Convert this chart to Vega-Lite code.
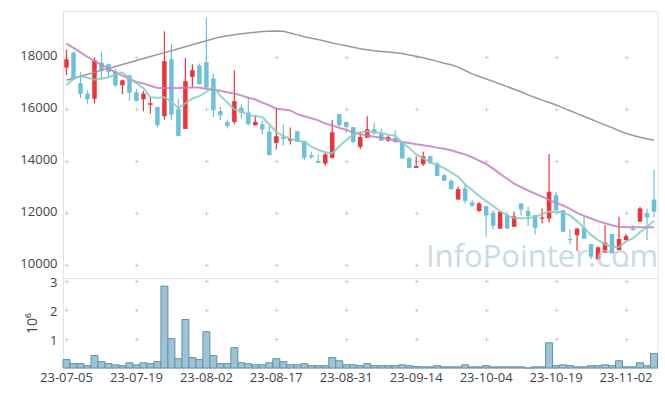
{
  "$schema": "https://vega.github.io/schema/vega-lite/v6.json",
  "padding": {"left": 19, "top": 10, "right": 9, "bottom": 0},
  "background": "white",
  "spacing": 0,
  "bounds": "flush",
  "config": {
    "font": "Open Sans",
    "view": {"stroke": "#e4e4e4"},
    "axis": {"labelFontSize": 13, "labelColor": "#444", "gridColor": "#d0d0d0", "gridWidth": 1}
  },
  "data": {"values": [
    {"d":"23-07-05","o":17590,"h":18280,"l":17300,"c":17910,"v":0.29,"m5":16910,"m20":18515,"m60":17104},
    {"d":"23-07-06","o":18170,"h":18200,"l":17100,"c":17130,"v":0.15,"m5":17170,"m20":18350,"m60":17180},
    {"d":"23-07-07","o":16990,"h":17420,"l":16420,"c":16580,"v":0.15,"m5":17260,"m20":18180,"m60":17256},
    {"d":"23-07-10","o":16590,"h":16720,"l":16210,"c":16370,"v":0.08,"m5":17200,"m20":18000,"m60":17332},
    {"d":"23-07-11","o":16390,"h":17980,"l":16210,"c":17870,"v":0.43,"m5":17130,"m20":17850,"m60":17408},
    {"d":"23-07-12","o":17780,"h":18210,"l":17130,"c":17490,"v":0.22,"m5":17160,"m20":17700,"m60":17484},
    {"d":"23-07-13","o":17720,"h":17750,"l":17200,"c":17420,"v":0.15,"m5":17220,"m20":17560,"m60":17560},
    {"d":"23-07-14","o":17450,"h":17550,"l":16850,"c":16910,"v":0.11,"m5":17330,"m20":17400,"m60":17636},
    {"d":"23-07-17","o":16910,"h":17130,"l":16570,"c":17100,"v":0.08,"m5":17410,"m20":17280,"m60":17711},
    {"d":"23-07-18","o":17300,"h":17310,"l":16310,"c":16620,"v":0.18,"m5":17160,"m20":17160,"m60":17787},
    {"d":"23-07-19","o":16640,"h":16770,"l":16280,"c":16310,"v":0.11,"m5":16990,"m20":17040,"m60":17863},
    {"d":"23-07-20","o":16370,"h":16690,"l":15910,"c":16590,"v":0.18,"m5":16800,"m20":16980,"m60":17939},
    {"d":"23-07-21","o":16160,"h":16440,"l":15820,"c":16220,"v":0.15,"m5":16450,"m20":16890,"m60":18015},
    {"d":"23-07-24","o":16070,"h":16080,"l":15280,"c":15370,"v":0.22,"m5":16430,"m20":16810,"m60":18091},
    {"d":"23-07-25","o":15720,"h":18990,"l":15590,"c":17840,"v":2.82,"m5":16450,"m20":16810,"m60":18167},
    {"d":"23-07-26","o":17910,"h":18510,"l":15570,"c":15780,"v":1.01,"m5":16280,"m20":16810,"m60":18243},
    {"d":"23-07-27","o":15990,"h":16400,"l":14960,"c":14960,"v":0.32,"m5":16030,"m20":16810,"m60":18318},
    {"d":"23-07-28","o":15230,"h":17960,"l":15230,"c":17070,"v":1.67,"m5":16220,"m20":16815,"m60":18394},
    {"d":"23-07-31","o":17230,"h":17720,"l":16820,"c":17490,"v":0.36,"m5":16400,"m20":16820,"m60":18470},
    {"d":"23-08-01","o":17680,"h":17750,"l":16950,"c":16950,"v":0.29,"m5":16490,"m20":16820,"m60":18546},
    {"d":"23-08-02","o":17800,"h":19510,"l":16780,"c":16820,"v":1.25,"m5":16650,"m20":16770,"m60":18622},
    {"d":"23-08-03","o":17170,"h":17360,"l":15690,"c":15950,"v":0.43,"m5":16860,"m20":16740,"m60":18698},
    {"d":"23-08-04","o":15910,"h":16080,"l":15570,"c":15760,"v":0.15,"m5":16500,"m20":16700,"m60":18773},
    {"d":"23-08-07","o":15490,"h":15590,"l":15250,"c":15340,"v":0.15,"m5":16250,"m20":16640,"m60":18820},
    {"d":"23-08-08","o":15500,"h":17490,"l":15410,"c":16300,"v":0.70,"m5":15980,"m20":16590,"m60":18860},
    {"d":"23-08-09","o":16050,"h":16170,"l":15630,"c":15850,"v":0.18,"m5":15900,"m20":16520,"m60":18890},
    {"d":"23-08-10","o":15860,"h":16460,"l":15370,"c":15410,"v":0.15,"m5":15760,"m20":16430,"m60":18920},
    {"d":"23-08-11","o":15370,"h":15760,"l":15360,"c":15500,"v":0.11,"m5":15730,"m20":16360,"m60":18955},
    {"d":"23-08-14","o":15410,"h":15530,"l":15010,"c":15210,"v":0.11,"m5":15690,"m20":16240,"m60":18985},
    {"d":"23-08-16","o":15120,"h":15350,"l":14220,"c":14220,"v":0.18,"m5":15400,"m20":16140,"m60":18995},
    {"d":"23-08-17","o":14690,"h":16040,"l":14440,"c":14950,"v":0.32,"m5":15110,"m20":16010,"m60":19000},
    {"d":"23-08-18","o":14920,"h":15400,"l":14580,"c":14850,"v":0.22,"m5":14960,"m20":15980,"m60":18990},
    {"d":"23-08-21","o":14780,"h":15280,"l":14630,"c":14860,"v":0.11,"m5":14850,"m20":15940,"m60":18924},
    {"d":"23-08-22","o":15140,"h":15140,"l":14730,"c":14730,"v":0.11,"m5":14780,"m20":15800,"m60":18850},
    {"d":"23-08-23","o":14770,"h":14770,"l":14010,"c":14120,"v":0.15,"m5":14730,"m20":15720,"m60":18780},
    {"d":"23-08-24","o":14220,"h":14350,"l":14070,"c":14140,"v":0.08,"m5":14560,"m20":15640,"m60":18725},
    {"d":"23-08-25","o":13990,"h":14250,"l":13920,"c":13920,"v":0.08,"m5":14420,"m20":15560,"m60":18670},
    {"d":"23-08-28","o":13900,"h":14370,"l":13810,"c":14250,"v":0.08,"m5":14330,"m20":15440,"m60":18605},
    {"d":"23-08-29","o":14120,"h":15570,"l":14090,"c":15100,"v":0.36,"m5":14290,"m20":15360,"m60":18540},
    {"d":"23-08-30","o":15800,"h":15800,"l":15310,"c":15370,"v":0.25,"m5":14560,"m20":15270,"m60":18485},
    {"d":"23-08-31","o":15500,"h":15500,"l":15090,"c":15310,"v":0.11,"m5":14800,"m20":15200,"m60":18430},
    {"d":"23-09-01","o":15300,"h":15300,"l":14690,"c":14730,"v":0.11,"m5":15020,"m20":15080,"m60":18375},
    {"d":"23-09-04","o":14540,"h":15080,"l":14450,"c":14920,"v":0.08,"m5":15110,"m20":15030,"m60":18320},
    {"d":"23-09-05","o":14890,"h":15720,"l":14890,"c":15220,"v":0.15,"m5":15140,"m20":14980,"m60":18280},
    {"d":"23-09-06","o":15220,"h":15480,"l":14990,"c":15070,"v":0.08,"m5":15110,"m20":14930,"m60":18240},
    {"d":"23-09-07","o":15050,"h":15250,"l":14770,"c":14770,"v":0.08,"m5":15060,"m20":14890,"m60":18215},
    {"d":"23-09-08","o":14780,"h":14990,"l":14730,"c":14920,"v":0.08,"m5":15010,"m20":14840,"m60":18190},
    {"d":"23-09-11","o":14890,"h":15170,"l":14690,"c":14730,"v":0.08,"m5":14970,"m20":14780,"m60":18160},
    {"d":"23-09-12","o":14730,"h":14730,"l":14090,"c":14090,"v":0.11,"m5":14700,"m20":14730,"m60":18130},
    {"d":"23-09-13","o":14120,"h":14120,"l":13730,"c":13730,"v":0.08,"m5":14500,"m20":14690,"m60":18080},
    {"d":"23-09-14","o":13730,"h":14180,"l":13730,"c":13800,"v":0.05,"m5":14250,"m20":14640,"m60":18030},
    {"d":"23-09-15","o":13870,"h":14350,"l":13810,"c":14180,"v":0.04,"m5":14100,"m20":14600,"m60":17970},
    {"d":"23-09-18","o":14180,"h":14180,"l":13880,"c":13900,"v":0.04,"m5":13950,"m20":14560,"m60":17900},
    {"d":"23-09-19","o":13900,"h":13950,"l":13420,"c":13420,"v":0.08,"m5":13840,"m20":14510,"m60":17830},
    {"d":"23-09-20","o":13450,"h":13500,"l":13230,"c":13230,"v":0.04,"m5":13720,"m20":14470,"m60":17760},
    {"d":"23-09-21","o":13230,"h":13280,"l":12910,"c":12910,"v":0.04,"m5":13560,"m20":14410,"m60":17700},
    {"d":"23-09-22","o":12510,"h":13000,"l":12510,"c":12910,"v":0.04,"m5":13390,"m20":14320,"m60":17610},
    {"d":"23-09-25","o":12940,"h":13130,"l":12360,"c":12460,"v":0.11,"m5":13090,"m20":14250,"m60":17480},
    {"d":"23-09-26","o":12400,"h":12490,"l":12230,"c":12270,"v":0.04,"m5":12880,"m20":14140,"m60":17350},
    {"d":"23-09-27","o":12070,"h":12420,"l":12040,"c":12360,"v":0.04,"m5":12650,"m20":14010,"m60":17250},
    {"d":"23-10-04","o":12260,"h":12260,"l":11080,"c":11900,"v":0.08,"m5":12450,"m20":13880,"m60":17150},
    {"d":"23-10-05","o":12000,"h":12100,"l":11360,"c":11500,"v":0.04,"m5":12260,"m20":13700,"m60":17060},
    {"d":"23-10-06","o":11390,"h":12070,"l":11390,"c":12040,"v":0.04,"m5":12060,"m20":13500,"m60":16960},
    {"d":"23-10-10","o":11910,"h":12040,"l":11390,"c":11390,"v":0.04,"m5":11900,"m20":13310,"m60":16860},
    {"d":"23-10-11","o":11460,"h":12040,"l":11460,"c":11860,"v":0.04,"m5":11790,"m20":13120,"m60":16760},
    {"d":"23-10-12","o":12360,"h":12360,"l":11910,"c":12130,"v":0.04,"m5":11790,"m20":12990,"m60":16660},
    {"d":"23-10-13","o":12070,"h":12230,"l":11490,"c":11870,"v":0,"m5":11800,"m20":12860,"m60":16540},
    {"d":"23-10-16","o":11910,"h":11910,"l":11170,"c":11420,"v":0.04,"m5":11840,"m20":12740,"m60":16440},
    {"d":"23-10-17","o":11770,"h":12170,"l":11590,"c":11820,"v":0.04,"m5":11950,"m20":12620,"m60":16340},
    {"d":"23-10-18","o":11780,"h":14260,"l":11620,"c":12810,"v":0.87,"m5":12050,"m20":12500,"m60":16250},
    {"d":"23-10-19","o":12680,"h":12810,"l":12100,"c":12100,"v":0.08,"m5":12040,"m20":12380,"m60":16150},
    {"d":"23-10-20","o":12100,"h":12100,"l":11270,"c":11270,"v":0.11,"m5":12000,"m20":12280,"m60":16040},
    {"d":"23-10-23","o":10990,"h":11360,"l":10800,"c":10950,"v":0.08,"m5":11900,"m20":12150,"m60":15930},
    {"d":"23-10-24","o":11140,"h":11400,"l":10530,"c":11400,"v":0.04,"m5":11680,"m20":12000,"m60":15820},
    {"d":"23-10-25","o":11420,"h":11850,"l":11000,"c":11000,"v":0.04,"m5":11420,"m20":11880,"m60":15710},
    {"d":"23-10-26","o":10800,"h":10800,"l":10210,"c":10310,"v":0.08,"m5":11150,"m20":11780,"m60":15600},
    {"d":"23-10-27","o":10210,"h":10690,"l":10210,"c":10670,"v":0.08,"m5":10950,"m20":11680,"m60":15490},
    {"d":"23-10-30","o":10460,"h":11530,"l":10460,"c":10850,"v":0.11,"m5":10790,"m20":11600,"m60":15380},
    {"d":"23-10-31","o":11180,"h":11180,"l":10440,"c":10440,"v":0.08,"m5":10690,"m20":11520,"m60":15280},
    {"d":"23-11-01","o":10570,"h":11850,"l":10570,"c":10990,"v":0.25,"m5":10680,"m20":11460,"m60":15160},
    {"d":"23-11-02","o":10950,"h":11180,"l":10920,"c":11100,"v":0.04,"m5":10900,"m20":11440,"m60":15060},
    {"d":"23-11-03","o":11400,"h":11530,"l":11310,"c":11340,"v":0.04,"m5":11020,"m20":11440,"m60":14980},
    {"d":"23-11-06","o":11660,"h":12230,"l":11660,"c":12170,"v":0.18,"m5":11250,"m20":11440,"m60":14910},
    {"d":"23-11-07","o":11990,"h":12170,"l":10950,"c":11820,"v":0.08,"m5":11450,"m20":11440,"m60":14850},
    {"d":"23-11-08","o":12510,"h":13670,"l":11820,"c":12040,"v":0.50,"m5":11700,"m20":11440,"m60":14790}
  ]},
  "vconcat": [
    {
      "width": 594.5,
      "height": 267,
      "encoding": {
        "x": {
          "field": "d", "type": "ordinal",
          "scale": {"paddingInner": 0, "paddingOuter": 0},
          "axis": {
            "labels": false, "ticks": false, "domain": false, "title": null,
            "minExtent": 0, "maxExtent": 0, "offset": 0,
            "grid": true, "bandPosition": 0.5,
            "values": ["23-07-05","23-07-19","23-08-02","23-08-17","23-08-31","23-09-14","23-10-04","23-10-19","23-11-02"],
            "gridDash": [4, 47.95], "gridDashOffset": 7.98
          }
        }
      },
      "layer": [
        {
          "mark": {"type": "rule", "strokeWidth": 1.2},
          "encoding": {
            "y": {
              "field": "l", "type": "quantitative",
              "scale": {"domain": [9490, 19770], "nice": false, "zero": false},
              "axis": {
                "title": null, "values": [10000, 12000, 14000, 16000, 18000], "format": "d",
                "ticks": false, "domain": false, "labelPadding": 6, "labelOffset": -1,
                "gridDash": [4, 66], "gridDashOffset": 68.5
              }
            },
            "y2": {"field": "h"},
            "color": {"condition": {"test": "datum.c >= datum.o", "value": "#ee3438"}, "value": "#6bc1da"}
          }
        },
        {
          "mark": {"type": "bar", "width": 4.5},
          "encoding": {
            "y": {"field": "o", "type": "quantitative"},
            "y2": {"field": "c"},
            "color": {"condition": {"test": "datum.c >= datum.o", "value": "#ee3438"}, "value": "#6bc1da"}
          }
        },
        {
          "mark": {"type": "line", "color": "#999999", "strokeWidth": 1.5},
          "encoding": {"y": {"field": "m60", "type": "quantitative"}}
        },
        {
          "mark": {"type": "line", "color": "#c77fc0", "strokeWidth": 2, "opacity": 0.85},
          "encoding": {"y": {"field": "m20", "type": "quantitative"}}
        },
        {
          "mark": {"type": "line", "color": "#86cbbd", "strokeWidth": 2, "opacity": 0.85},
          "encoding": {"y": {"field": "m5", "type": "quantitative"}}
        },
        {
          "data": {"values": [{"t": "InfoPointer.com"}]},
          "mark": {"type": "text", "fontSize": 31, "align": "center", "baseline": "alphabetic", "color": "#b4cbdb", "opacity": 0.7},
          "encoding": {
            "x": {"datum": "23-10-17"},
            "y": {"datum": 9900},
            "text": {"field": "t"}
          }
        }
      ]
    },
    {
      "width": 594.5,
      "height": 90,
      "mark": {"type": "bar", "fill": "#9dc3d4", "stroke": "#5e93ad", "strokeWidth": 1},
      "encoding": {
        "x": {
          "field": "d", "type": "ordinal",
          "scale": {"paddingInner": 0, "paddingOuter": 0},
          "axis": {
            "title": null, "labelAngle": 0, "ticks": false, "domain": false, "labelPadding": 3,
            "values": ["23-07-05","23-07-19","23-08-02","23-08-17","23-08-31","23-09-14","23-10-04","23-10-19","23-11-02"],
            "grid": true, "bandPosition": 0.5,
            "gridDash": [4, 25.03], "gridDashOffset": 28.13
          }
        },
        "y": {
          "field": "v", "type": "quantitative",
          "scale": {"domain": [0, 3.1], "nice": false},
          "axis": {
            "values": [1, 2, 3], "title": "10⁶", "titleFontSize": 14, "titleFontWeight": "normal",
            "titleColor": "#444", "titlePadding": 10, "ticks": false, "domain": false, "labelPadding": 6,
            "labelOffset": 1.5,
            "gridDash": [4, 66], "gridDashOffset": 68.5
          }
        }
      }
    }
  ]
}
